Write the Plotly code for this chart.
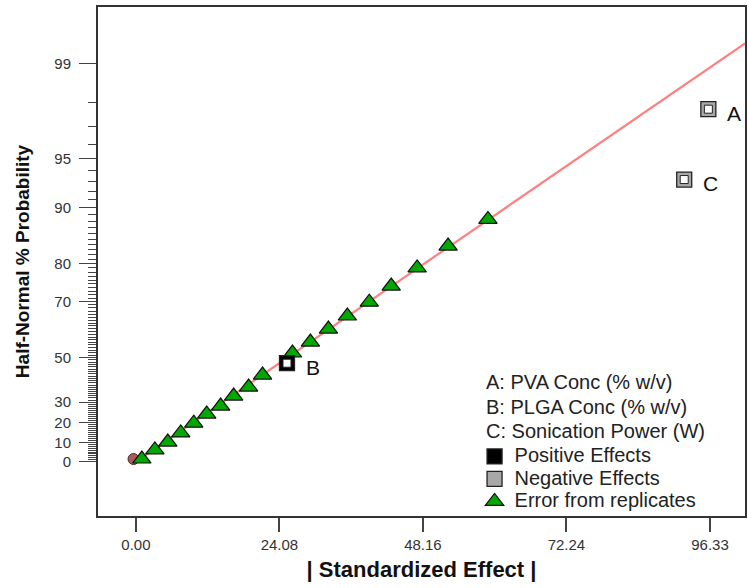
from statistics import NormalDist
import plotly.graph_objects as go

# |Standardized effect| of the replicate-error terms and their half-normal probability (%)
error_effect = [1.00, 3.18, 5.35, 7.53, 9.71, 11.88, 14.22, 16.40, 18.91, 21.25,
                26.27, 29.28, 32.30, 35.48, 39.16, 42.84, 47.19, 52.38, 59.07]
error_prob = [1.4, 6.1, 10.1, 14.8, 19.7, 24.2, 28.1, 32.9, 37.1, 42.5,
              51.8, 56.1, 60.9, 65.4, 69.8, 74.4, 79.0, 83.7, 88.3]

# Model factors
factor_codes = ["A", "B", "C"]
factor_names = ["PVA Conc (% w/v)", "PLGA Conc (% w/v)", "Sonication Power (W)"]
factor_effect = [96.05, 25.35, 92.00]
factor_prob = [97.74, 47.6, 93.2]
factor_sign = ["negative", "positive", "negative"]

# Remaining near-zero effect
other_effect = [-0.4]
other_prob = [1.4]

# Axis ticks
prob_ticks = [0, 10, 20, 30, 50, 70, 80, 90, 95, 99]
prob_minor = [p for p in range(1, 99) if p not in prob_ticks]
effect_ticks = [0.00, 24.08, 48.16, 72.24, 96.33]
effect_range = [-6.36, 102.2]
prob_z_range = [-0.351, 2.941]

_nd = NormalDist()


def half_normal_z(p):
    """Half-normal quantile for a cumulative probability given in percent."""
    return _nd.inv_cdf(0.5 + p / 200.0)


err_z = [half_normal_z(p) for p in error_prob]
fac_z = [half_normal_z(p) for p in factor_prob]
oth_z = [half_normal_z(p) for p in other_prob]

# Reference line through the origin fitted to the error terms
slope = sum(x * z for x, z in zip(error_effect, err_z)) / sum(x * x for x in error_effect)
line_x = [0.0, effect_range[1]]
line_z = [slope * x for x in line_x]

FONT = "Arial, Liberation Sans, sans-serif"
EDGE = "#222222"
KEY_SIZE = 20

fig = go.Figure()

fig.add_trace(go.Scatter(
    x=line_x, y=line_z, mode="lines",
    line=dict(color="#ff8080", width=2.2),
    showlegend=False, hoverinfo="skip",
))

fig.add_trace(go.Scatter(
    x=other_effect, y=oth_z, mode="markers",
    marker=dict(symbol="circle", size=11, color="#aa5a5a",
                line=dict(color="#4a2a2a", width=1)),
    showlegend=False,
))

fig.add_trace(go.Scatter(
    x=error_effect, y=err_z, mode="markers",
    name=f'<span style="font-size:{KEY_SIZE}px">Error from replicates</span>',
    legendrank=3,
    marker=dict(symbol="triangle-up", size=16, color="#00a800",
                line=dict(color="#111111", width=1.2)),
))

for sign, fill, label, rank in [("positive", "#000000", "Positive Effects", 1),
                                ("negative", "#a8a8a8", "Negative Effects", 2)]:
    xs = [x for x, s in zip(factor_effect, factor_sign) if s == sign]
    zs = [z for z, s in zip(fac_z, factor_sign) if s == sign]
    fig.add_trace(go.Scatter(
        x=xs, y=zs, mode="markers",
        name=f'<span style="font-size:{KEY_SIZE}px">{label}</span>',
        legendrank=rank,
        marker=dict(symbol="square", size=15, color=fill,
                    line=dict(color=EDGE, width=1.3)),
    ))

# hollow centres of the factor markers
fig.add_trace(go.Scatter(
    x=factor_effect, y=fac_z, mode="markers",
    marker=dict(symbol="square", size=8, color="white",
                line=dict(color=EDGE, width=1)),
    showlegend=False, hoverinfo="skip",
))

annotations = []
for code, x, z in zip(factor_codes, factor_effect, fac_z):
    annotations.append(dict(
        x=x, y=z, xref="x", yref="y", text=code, showarrow=False,
        xanchor="left", yanchor="middle", xshift=17, yshift=-4,
        font=dict(family=FONT, size=21, color="#111111"),
    ))

factor_rows_y = [0.2630, 0.2140, 0.1668]
for code, name, yy in zip(factor_codes, factor_names, factor_rows_y):
    annotations.append(dict(
        x=0.5966, y=yy, xref="paper", yref="paper",
        text=f"{code}: {name}", showarrow=False,
        xanchor="left", yanchor="middle",
        font=dict(family=FONT, size=KEY_SIZE, color="#222222"),
    ))

fig.update_layout(
    width=748, height=588,
    margin=dict(l=98, r=1, t=7, b=72),
    paper_bgcolor="white", plot_bgcolor="white",
    font=dict(family=FONT, color="#333333"),
    annotations=annotations,
    legend=dict(
        x=0.582, y=0.149, xanchor="left", yanchor="top",
        font=dict(family=FONT, size=15, color="#222222"),
        bgcolor="rgba(0,0,0,0)", borderwidth=0,
    ),
    xaxis=dict(
        range=effect_range,
        tickmode="array", tickvals=effect_ticks,
        ticktext=[f"{v:.2f}" for v in effect_ticks],
        ticks="outside", ticklen=14, tickwidth=2, tickcolor="#444444",
        ticklabelstandoff=0,
        tickfont=dict(family=FONT, size=15, color="#333333"),
        showline=True, linecolor="#333333", linewidth=2, mirror=True,
        showgrid=False, zeroline=False,
        title=dict(text="<b>| Standardized Effect |</b>", standoff=10,
                   font=dict(family=FONT, size=22, color="#111111")),
    ),
    yaxis=dict(
        range=prob_z_range,
        tickmode="array", tickvals=[half_normal_z(p) for p in prob_ticks],
        ticktext=[str(p) for p in prob_ticks],
        ticks="outside", ticklen=17, tickwidth=1, tickcolor="#444444",
        ticklabelstandoff=5,
        tickfont=dict(family=FONT, size=15, color="#333333"),
        minor=dict(tickvals=[half_normal_z(p) for p in prob_minor],
                   ticks="outside", ticklen=8, tickwidth=1,
                   tickcolor="#444444", showgrid=False),
        showline=True, linecolor="#333333", linewidth=2, mirror=True,
        showgrid=False, zeroline=False,
        title=dict(text="<b>Half-Normal % Probability</b>", standoff=20,
                   font=dict(family=FONT, size=19, color="#111111")),
    ),
)

fig.write_html("out.html")
